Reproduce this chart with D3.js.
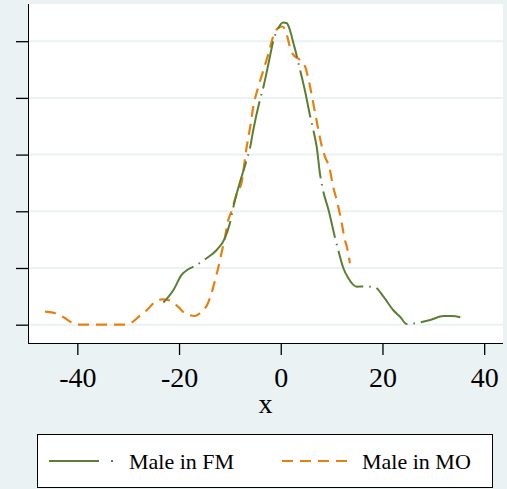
<!DOCTYPE html>
<html>
<head>
<meta charset="utf-8">
<script src="https://cdn.jsdelivr.net/npm/d3@7"></script>
<style>
  html, body { margin: 0; padding: 0; background: #eaf2f3; }
  svg { display: block; }
  text { font-family: "Liberation Serif", "Times New Roman", serif; fill: #000; }
</style>
</head>
<body>
<svg id="chart" width="507" height="489"></svg>
<script>
// ---- data (kernel density estimates) ----
const fmX = [-23.1, -21.1, -19.5, -18.2, -16.9, -14.9, -12.6, -11.0, -10.0, -9.3, -8.65, -8.0, -6.7, -6.0, -5.4, -4.1, -3.4, -2.4, -1.5, -0.5, 0.5, 1.2, 1.8, 2.5, 3.15, 3.8, 4.8, 5.8, 6.4, 7.1, 7.7, 8.3, 9.4, 10.7, 11.3, 12.3, 13.3, 14.95, 16.2, 18.5, 20.2, 22.1, 23.5, 24.8, 27.1, 29.4, 32.0, 33.7, 35.3];
const fmY = [0.00388, 0.00612, 0.00877, 0.00977, 0.01035, 0.01153, 0.01317, 0.01524, 0.01788, 0.02081, 0.02317, 0.02522, 0.02905, 0.03139, 0.03434, 0.03963, 0.04198, 0.04610, 0.04991, 0.05228, 0.05330, 0.05316, 0.05198, 0.04963, 0.04739, 0.04492, 0.04109, 0.03668, 0.03434, 0.03116, 0.02670, 0.02376, 0.02023, 0.01524, 0.01317, 0.01000, 0.00818, 0.00670, 0.00674, 0.00660, 0.00494, 0.00259, 0.00136, 0.00010, 0.00035, 0.00083, 0.00153, 0.00153, 0.00131];

const moX = [-46.35, -44.8, -42.8, -41.0, -39.9, -35.5, -30.6, -29.05, -27.7, -26.3, -24.7, -23.4, -21.8, -20.2, -18.8, -16.85, -15.9, -14.3, -13.6, -12.9, -12.3, -11.6, -10.95, -10.4, -9.6, -8.65, -7.7, -6.8, -6.0, -5.4, -4.4, -3.4, -2.4, -1.5, -0.5, 0.35, 1.2, 1.8, 2.5, 3.8, 4.8, 5.4, 6.1, 6.75, 7.4, 8.1, 8.7, 9.6, 10.3, 11.0, 12.0, 12.6, 13.0, 13.6];
const moY = [0.00229, 0.00212, 0.00136, 0.00030, 0.00000, 0.00000, 0.00000, 0.00053, 0.00159, 0.00259, 0.00406, 0.00448, 0.00427, 0.00317, 0.00201, 0.00153, 0.00201, 0.00383, 0.00559, 0.00788, 0.01000, 0.01287, 0.01552, 0.01817, 0.02023, 0.02317, 0.02508, 0.03081, 0.03492, 0.03845, 0.04198, 0.04492, 0.04787, 0.05079, 0.05233, 0.05259, 0.05109, 0.04903, 0.04757, 0.04668, 0.04550, 0.04346, 0.04051, 0.03734, 0.03434, 0.03139, 0.02963, 0.02758, 0.02434, 0.02199, 0.01788, 0.01494, 0.01376, 0.01083];

const xTicks = [-40, -20, 0, 20, 40];
const yTicks = [0, 0.01, 0.02, 0.03, 0.04, 0.05];
const seriesNames = ["Male in FM", "Male in MO"];
const xTitle = "x";

// ---- layout ----
const svg = d3.select("#chart");
const pL = 28, pR = 503, pT = 4, pB = 343;
const x = d3.scaleLinear().domain([-49.7, 43.7]).range([pL, pR]);
const y = d3.scaleLinear().domain([-0.00323, 0.05656]).range([pB, pT]);

const green = "#5b7f32", orange = "#e8800e";

// plot region
svg.append("rect").attr("x", pL).attr("y", pT)
  .attr("width", pR - pL).attr("height", pB - pT).attr("fill", "#fff");

// grid lines
svg.append("g").selectAll("line").data(yTicks).join("line")
  .attr("x1", pL).attr("x2", pR)
  .attr("y1", d => y(d)).attr("y2", d => y(d))
  .attr("stroke", "#eaf2f3").attr("stroke-width", 2);

// y axis (no labels)
const yAxis = svg.append("g").attr("transform", `translate(${pL},0)`)
  .call(d3.axisLeft(y).tickValues(yTicks).tickSize(12).tickFormat(""));
yAxis.select(".domain").attr("d", `M0.5,${pT}V${pB}`).attr("stroke", "#000");
yAxis.selectAll(".tick line").attr("stroke", "#000").attr("stroke-width", 1.3);

// x axis
const xAxis = svg.append("g").attr("transform", `translate(0,${pB})`)
  .call(d3.axisBottom(x).tickValues(xTicks).tickSize(12).tickPadding(12).tickFormat(d3.format("d")));
xAxis.select(".domain").attr("d", `M${pL},0.5H${pR}`).attr("stroke", "#000");
xAxis.selectAll(".tick line").attr("stroke", "#000").attr("stroke-width", 1.3);
xAxis.selectAll(".tick text")
  .attr("font-family", "'Liberation Serif', serif")
  .attr("font-size", 28).attr("fill", "#000")
  .text(d => d < 0 ? "-" + Math.abs(d) : String(d));

svg.append("text").attr("x", (pL + pR) / 2).attr("y", 413)
  .attr("text-anchor", "middle").attr("font-size", 28).text(xTitle);

// lines
const line = d3.line().x(d => x(d[0])).y(d => y(d[1])).curve(d3.curveMonotoneX);
const fm = d3.zip(fmX, fmY), mo = d3.zip(moX, moY);

svg.append("path").datum(mo).attr("d", line)
  .attr("fill", "none").attr("stroke", orange).attr("stroke-width", 2.2)
  .attr("stroke-dasharray", "11,7");
svg.append("path").datum(fm).attr("d", line)
  .attr("fill", "none").attr("stroke", green).attr("stroke-width", 2)
  .attr("stroke-dasharray", "48,6,1.5,6");

// legend
const lg = svg.append("g");
lg.append("rect").attr("x", 37.5).attr("y", 434.5).attr("width", 455).attr("height", 53)
  .attr("fill", "#fff").attr("stroke", "#000").attr("stroke-width", 1);
lg.append("line").attr("x1", 49).attr("x2", 99).attr("y1", 461).attr("y2", 461)
  .attr("stroke", green).attr("stroke-width", 2);
lg.append("line").attr("x1", 111).attr("x2", 113).attr("y1", 461).attr("y2", 461)
  .attr("stroke", green).attr("stroke-width", 2);
lg.append("text").attr("x", 129).attr("y", 469).attr("font-size", 22).text(seriesNames[0]);
lg.append("line").attr("x1", 282).attr("x2", 348).attr("y1", 461).attr("y2", 461)
  .attr("stroke", orange).attr("stroke-width", 2.2).attr("stroke-dasharray", "11,7");
lg.append("text").attr("x", 362).attr("y", 469).attr("font-size", 22).text(seriesNames[1]);
</script>
</body>
</html>
